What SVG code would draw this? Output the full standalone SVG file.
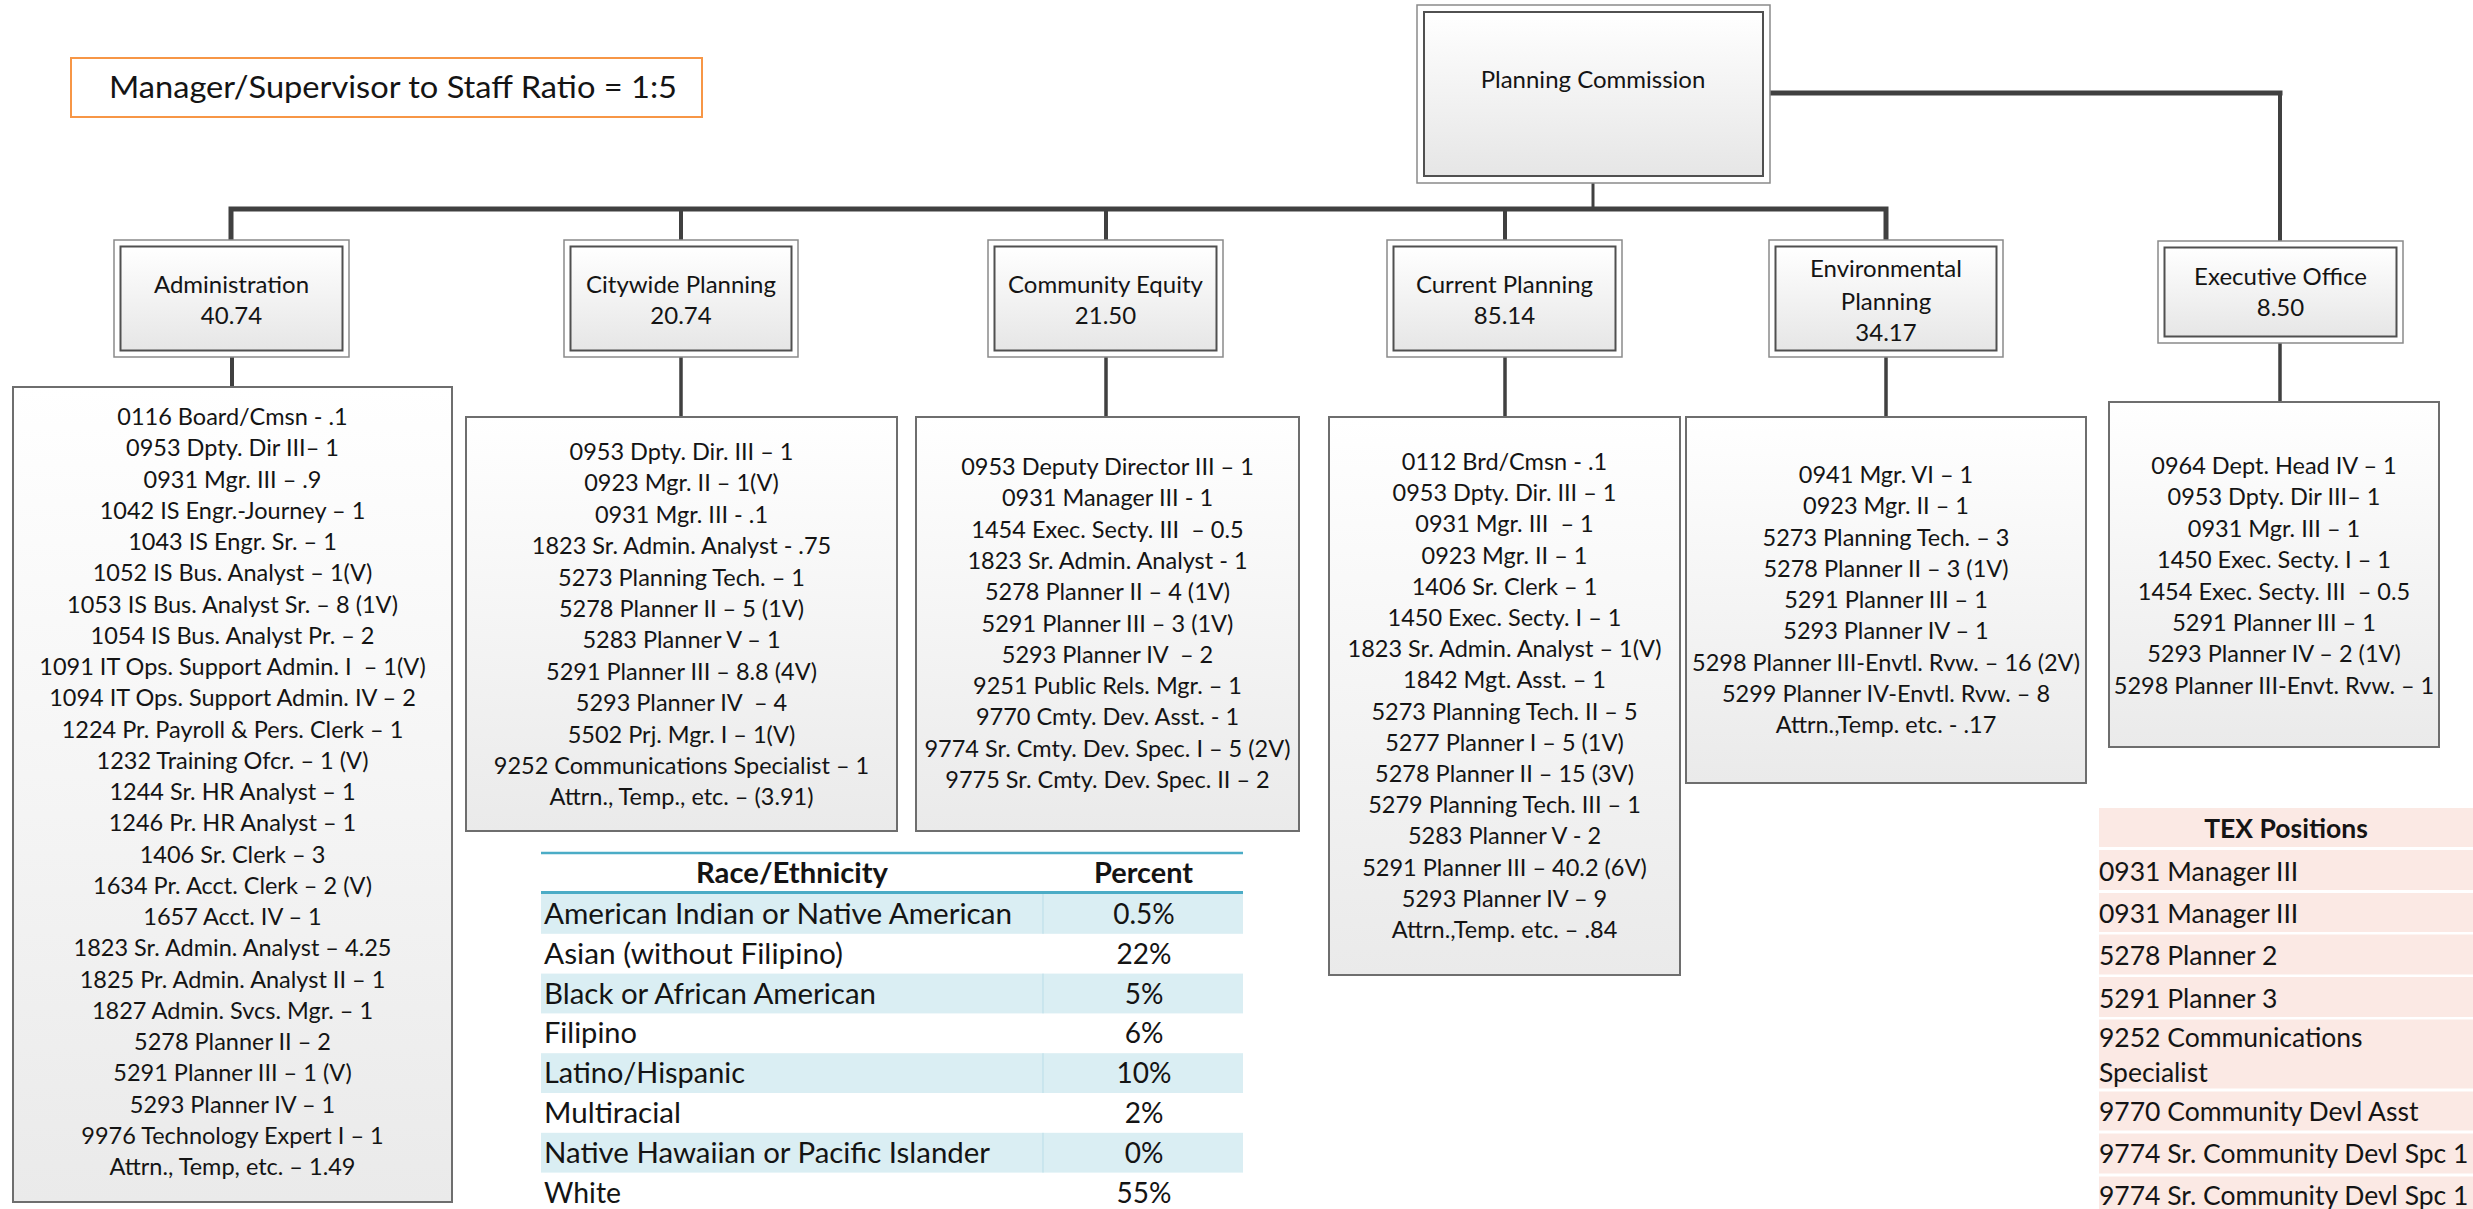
<svg xmlns="http://www.w3.org/2000/svg" width="2473" height="1209" viewBox="0 0 2473 1209">
<style>
.t{font-family:Lato,"Liberation Sans",sans-serif;fill:#141414}
.c{font-size:23.5px;text-anchor:middle}
.h{font-size:24px;text-anchor:middle}
.tb{font-size:28px}
.tx{font-size:26.5px}
.bold{font-weight:bold}
.box{fill:url(#g);stroke:#6E6E6E;stroke-width:2}
.outer{fill:#fff;stroke:#8A8A8A;stroke-width:1.5}
.inner{fill:url(#gh);stroke:#505050;stroke-width:2}
.conn{fill:none;stroke:#404040;stroke-linecap:square}
.shade{fill:#DAEEF3}
.tex{fill:#FBE9E4}
</style>
<defs>
<linearGradient id="g" x1="0" y1="0" x2="0" y2="1"><stop offset="0" stop-color="#FFFFFF"/><stop offset="1" stop-color="#EAEAEA"/></linearGradient>
<linearGradient id="gh" x1="0" y1="0" x2="0" y2="1"><stop offset="0" stop-color="#FFFFFF"/><stop offset="1" stop-color="#E6E6E6"/></linearGradient>
</defs>
<rect width="2473" height="1209" fill="#fff"/>

<g id="ratio">
<rect x="71" y="58" width="631" height="59" fill="#fff" stroke="#F79646" stroke-width="2"/>
<text class="t" x="109" y="98" font-size="31" textLength="568" lengthAdjust="spacingAndGlyphs">Manager/Supervisor to Staff Ratio = 1:5</text>
</g>

<g id="connectors">
<path class="conn" stroke-width="5" d="M231,240 V209 H1886 V240"/>
<path class="conn" stroke-width="4" d="M681,209 V240 M1106,209 V240 M1505,209 V240"/>
<path class="conn" stroke-width="3" d="M1593,183 V209"/>
<path class="conn" stroke-width="5" d="M1770,93 H2280"/>
<path class="conn" stroke-width="4" d="M2280,93 V241"/>
<path class="conn" stroke-width="4" d="M232,357 V387"/>
<path class="conn" stroke-width="3.5" d="M681,357 V417 M1106,357 V417 M1505,357 V417 M1886,357 V417 M2280,343 V402"/>
</g>

<g id="planning-commission">
<rect class="outer" x="1417" y="5" width="353" height="178"/>
<rect class="inner" x="1424" y="12" width="339" height="164"/>
<text class="t h" x="1593" y="88">Planning Commission</text>
</g>

<g id="administration">
<rect class="outer" x="114" y="240" width="235" height="117"/>
<rect class="inner" x="120.5" y="246.5" width="222" height="104"/>
<text class="t h" x="231.5" y="293">Administration</text>
<text class="t h" x="231.5" y="324">40.74</text>
</g>
<g id="citywide-planning">
<rect class="outer" x="564" y="240" width="234" height="117"/>
<rect class="inner" x="570.5" y="246.5" width="221" height="104"/>
<text class="t h" x="681" y="293">Citywide Planning</text>
<text class="t h" x="681" y="324">20.74</text>
</g>
<g id="community-equity">
<rect class="outer" x="988" y="240" width="235" height="117"/>
<rect class="inner" x="994.5" y="246.5" width="222" height="104"/>
<text class="t h" x="1105.5" y="293">Community Equity</text>
<text class="t h" x="1105.5" y="324">21.50</text>
</g>
<g id="current-planning">
<rect class="outer" x="1387" y="240" width="235" height="117"/>
<rect class="inner" x="1393.5" y="246.5" width="222" height="104"/>
<text class="t h" x="1504.5" y="293">Current Planning</text>
<text class="t h" x="1504.5" y="324">85.14</text>
</g>
<g id="environmental-planning">
<rect class="outer" x="1769" y="240" width="234" height="117"/>
<rect class="inner" x="1775.5" y="246.5" width="221" height="104"/>
<text class="t h" x="1886" y="277">Environmental</text>
<text class="t h" x="1886" y="310">Planning</text>
<text class="t h" x="1886" y="341">34.17</text>
</g>
<g id="executive-office">
<rect class="outer" x="2158" y="241" width="245" height="102"/>
<rect class="inner" x="2164.5" y="247.5" width="232" height="89"/>
<text class="t h" x="2280.5" y="285">Executive Office</text>
<text class="t h" x="2280.5" y="316">8.50</text>
</g>

<g id="administration-staff">
<rect class="box" x="13" y="387" width="439" height="815"/>
<text class="t c" x="232.5" y="425">0116 Board/Cmsn - .1</text>
<text class="t c" x="232.5" y="456.25">0953 Dpty. Dir III– 1</text>
<text class="t c" x="232.5" y="487.5">0931 Mgr. III – .9</text>
<text class="t c" x="232.5" y="518.75">1042 IS Engr.-Journey – 1</text>
<text class="t c" x="232.5" y="550">1043 IS Engr. Sr. – 1</text>
<text class="t c" x="232.5" y="581.25">1052 IS Bus. Analyst – 1(V)</text>
<text class="t c" x="232.5" y="612.5">1053 IS Bus. Analyst Sr. – 8 (1V)</text>
<text class="t c" x="232.5" y="643.75">1054 IS Bus. Analyst Pr. – 2</text>
<text class="t c" x="232.5" y="675" xml:space="preserve">1091 IT Ops. Support Admin. I  – 1(V)</text>
<text class="t c" x="232.5" y="706.25">1094 IT Ops. Support Admin. IV – 2</text>
<text class="t c" x="232.5" y="737.5">1224 Pr. Payroll &amp; Pers. Clerk – 1</text>
<text class="t c" x="232.5" y="768.75">1232 Training Ofcr. – 1 (V)</text>
<text class="t c" x="232.5" y="800">1244 Sr. HR Analyst – 1</text>
<text class="t c" x="232.5" y="831.25">1246 Pr. HR Analyst – 1</text>
<text class="t c" x="232.5" y="862.5">1406 Sr. Clerk – 3</text>
<text class="t c" x="232.5" y="893.75">1634 Pr. Acct. Clerk – 2 (V)</text>
<text class="t c" x="232.5" y="925">1657 Acct. IV – 1</text>
<text class="t c" x="232.5" y="956.25">1823 Sr. Admin. Analyst – 4.25</text>
<text class="t c" x="232.5" y="987.5">1825 Pr. Admin. Analyst II – 1</text>
<text class="t c" x="232.5" y="1018.75">1827 Admin. Svcs. Mgr. – 1</text>
<text class="t c" x="232.5" y="1050">5278 Planner II – 2</text>
<text class="t c" x="232.5" y="1081.25">5291 Planner III – 1 (V)</text>
<text class="t c" x="232.5" y="1112.5">5293 Planner IV – 1</text>
<text class="t c" x="232.5" y="1143.75">9976 Technology Expert I – 1</text>
<text class="t c" x="232.5" y="1175">Attrn., Temp, etc. – 1.49</text>
</g>

<g id="citywide-staff">
<rect class="box" x="466" y="417" width="431" height="414"/>
<text class="t c" x="681.5" y="460">0953 Dpty. Dir. III – 1</text>
<text class="t c" x="681.5" y="491.4">0923 Mgr. II – 1(V)</text>
<text class="t c" x="681.5" y="522.8">0931 Mgr. III - .1</text>
<text class="t c" x="681.5" y="554.2">1823 Sr. Admin. Analyst - .75</text>
<text class="t c" x="681.5" y="585.6">5273 Planning Tech. – 1</text>
<text class="t c" x="681.5" y="617">5278 Planner II – 5 (1V)</text>
<text class="t c" x="681.5" y="648.4">5283 Planner V – 1</text>
<text class="t c" x="681.5" y="679.8">5291 Planner III – 8.8 (4V)</text>
<text class="t c" x="681.5" y="711.2" xml:space="preserve">5293 Planner IV  – 4</text>
<text class="t c" x="681.5" y="742.6">5502 Prj. Mgr. I – 1(V)</text>
<text class="t c" x="681.5" y="774">9252 Communications Specialist – 1</text>
<text class="t c" x="681.5" y="805.4">Attrn., Temp., etc. – (3.91)</text>
</g>

<g id="community-equity-staff">
<rect class="box" x="916" y="417" width="383" height="414"/>
<text class="t c" x="1107.5" y="475">0953 Deputy Director III – 1</text>
<text class="t c" x="1107.5" y="506.3">0931 Manager III - 1</text>
<text class="t c" x="1107.5" y="537.6" xml:space="preserve">1454 Exec. Secty. III  – 0.5</text>
<text class="t c" x="1107.5" y="568.9">1823 Sr. Admin. Analyst - 1</text>
<text class="t c" x="1107.5" y="600.2">5278 Planner II – 4 (1V)</text>
<text class="t c" x="1107.5" y="631.5">5291 Planner III – 3 (1V)</text>
<text class="t c" x="1107.5" y="662.8" xml:space="preserve">5293 Planner IV  – 2</text>
<text class="t c" x="1107.5" y="694.1">9251 Public Rels. Mgr. – 1</text>
<text class="t c" x="1107.5" y="725.4">9770 Cmty. Dev. Asst. - 1</text>
<text class="t c" x="1107.5" y="756.7">9774 Sr. Cmty. Dev. Spec. I – 5 (2V)</text>
<text class="t c" x="1107.5" y="788">9775 Sr. Cmty. Dev. Spec. II – 2</text>
</g>

<g id="current-planning-staff">
<rect class="box" x="1329" y="417" width="351" height="558"/>
<text class="t c" x="1504.5" y="470">0112 Brd/Cmsn - .1</text>
<text class="t c" x="1504.5" y="501.2">0953 Dpty. Dir. III – 1</text>
<text class="t c" x="1504.5" y="532.4" xml:space="preserve">0931 Mgr. III  – 1</text>
<text class="t c" x="1504.5" y="563.6">0923 Mgr. II – 1</text>
<text class="t c" x="1504.5" y="594.8">1406 Sr. Clerk – 1</text>
<text class="t c" x="1504.5" y="626">1450 Exec. Secty. I – 1</text>
<text class="t c" x="1504.5" y="657.2">1823 Sr. Admin. Analyst – 1(V)</text>
<text class="t c" x="1504.5" y="688.4">1842 Mgt. Asst. – 1</text>
<text class="t c" x="1504.5" y="719.6">5273 Planning Tech. II – 5</text>
<text class="t c" x="1504.5" y="750.8">5277 Planner I – 5 (1V)</text>
<text class="t c" x="1504.5" y="782">5278 Planner II – 15 (3V)</text>
<text class="t c" x="1504.5" y="813.2">5279 Planning Tech. III – 1</text>
<text class="t c" x="1504.5" y="844.4">5283 Planner V - 2</text>
<text class="t c" x="1504.5" y="875.6">5291 Planner III – 40.2 (6V)</text>
<text class="t c" x="1504.5" y="906.8">5293 Planner IV – 9</text>
<text class="t c" x="1504.5" y="938">Attrn.,Temp. etc. – .84</text>
</g>

<g id="environmental-staff">
<rect class="box" x="1686" y="417" width="400" height="366"/>
<text class="t c" x="1886" y="483">0941 Mgr. VI – 1</text>
<text class="t c" x="1886" y="514.25">0923 Mgr. II – 1</text>
<text class="t c" x="1886" y="545.5">5273 Planning Tech. – 3</text>
<text class="t c" x="1886" y="576.75">5278 Planner II – 3 (1V)</text>
<text class="t c" x="1886" y="608">5291 Planner III – 1</text>
<text class="t c" x="1886" y="639.25">5293 Planner IV – 1</text>
<text class="t c" x="1886" y="670.5">5298 Planner III-Envtl. Rvw. – 16 (2V)</text>
<text class="t c" x="1886" y="701.75">5299 Planner IV-Envtl. Rvw. – 8</text>
<text class="t c" x="1886" y="733">Attrn.,Temp. etc. - .17</text>
</g>

<g id="executive-staff">
<rect class="box" x="2109" y="402" width="330" height="345"/>
<text class="t c" x="2274" y="474">0964 Dept. Head IV – 1</text>
<text class="t c" x="2274" y="505.4">0953 Dpty. Dir III– 1</text>
<text class="t c" x="2274" y="536.8">0931 Mgr. III – 1</text>
<text class="t c" x="2274" y="568.2">1450 Exec. Secty. I – 1</text>
<text class="t c" x="2274" y="599.6" xml:space="preserve">1454 Exec. Secty. III  – 0.5</text>
<text class="t c" x="2274" y="631">5291 Planner III – 1</text>
<text class="t c" x="2274" y="662.4">5293 Planner IV – 2 (1V)</text>
<text class="t c" x="2274" y="693.8">5298 Planner III-Envt. Rvw. – 1</text>
</g>

<g id="race-table">
<rect class="shade" x="541" y="894" width="702" height="39.8"/>
<rect class="shade" x="541" y="973.6" width="702" height="39.8"/>
<rect class="shade" x="541" y="1053.2" width="702" height="39.8"/>
<rect class="shade" x="541" y="1132.8" width="702" height="39.8"/>
<path d="M1043,894 V933.8 M1043,973.6 V1013.4 M1043,1053.2 V1093 M1043,1132.8 V1172.6" stroke="#B9DDE8" stroke-width="1"/>
<line x1="541" y1="853" x2="1243" y2="853" stroke="#4BACC6" stroke-width="2.5"/>
<line x1="541" y1="892.5" x2="1243" y2="892.5" stroke="#4BACC6" stroke-width="3"/>
<text class="t tb bold" x="696" y="883" textLength="192" lengthAdjust="spacingAndGlyphs">Race/Ethnicity</text>
<text class="t tb bold" x="1094" y="883" textLength="99" lengthAdjust="spacingAndGlyphs">Percent</text>
<text class="t tb" x="544" y="924" textLength="468" lengthAdjust="spacingAndGlyphs">American Indian or Native American</text>
<text class="t tb" x="1144" y="924" text-anchor="middle">0.5%</text>
<text class="t tb" x="544" y="963.8" textLength="299" lengthAdjust="spacingAndGlyphs">Asian (without Filipino)</text>
<text class="t tb" x="1144" y="963.8" text-anchor="middle">22%</text>
<text class="t tb" x="544" y="1003.6" textLength="332" lengthAdjust="spacingAndGlyphs">Black or African American</text>
<text class="t tb" x="1144" y="1003.6" text-anchor="middle">5%</text>
<text class="t tb" x="544" y="1043.4" textLength="93" lengthAdjust="spacingAndGlyphs">Filipino</text>
<text class="t tb" x="1144" y="1043.4" text-anchor="middle">6%</text>
<text class="t tb" x="544" y="1083.2" textLength="201" lengthAdjust="spacingAndGlyphs">Latino/Hispanic</text>
<text class="t tb" x="1144" y="1083.2" text-anchor="middle">10%</text>
<text class="t tb" x="544" y="1123" textLength="137" lengthAdjust="spacingAndGlyphs">Multiracial</text>
<text class="t tb" x="1144" y="1123" text-anchor="middle">2%</text>
<text class="t tb" x="544" y="1162.8" textLength="446" lengthAdjust="spacingAndGlyphs">Native Hawaiian or Pacific Islander</text>
<text class="t tb" x="1144" y="1162.8" text-anchor="middle">0%</text>
<text class="t tb" x="544" y="1202.6" textLength="77" lengthAdjust="spacingAndGlyphs">White</text>
<text class="t tb" x="1144" y="1202.6" text-anchor="middle">55%</text>
</g>

<g id="tex-table">
<rect class="tex" x="2099" y="808" width="374" height="39"/>
<rect class="tex" x="2099" y="850" width="374" height="40"/>
<rect class="tex" x="2099" y="893" width="374" height="39"/>
<rect class="tex" x="2099" y="934.5" width="374" height="40"/>
<rect class="tex" x="2099" y="977" width="374" height="40"/>
<rect class="tex" x="2099" y="1019.5" width="374" height="69"/>
<rect class="tex" x="2099" y="1091.5" width="374" height="39"/>
<rect class="tex" x="2099" y="1133.5" width="374" height="40"/>
<rect class="tex" x="2099" y="1176.5" width="374" height="40"/>
<text class="t tx bold" x="2286" y="838" text-anchor="middle">TEX Positions</text>
<text class="t tx" x="2099" y="881">0931 Manager III</text>
<text class="t tx" x="2099" y="923">0931 Manager III</text>
<text class="t tx" x="2099" y="965">5278 Planner 2</text>
<text class="t tx" x="2099" y="1008">5291 Planner 3</text>
<text class="t tx" x="2099" y="1047">9252 Communications</text>
<text class="t tx" x="2099" y="1082">Specialist</text>
<text class="t tx" x="2099" y="1121">9770 Community Devl Asst</text>
<text class="t tx" x="2099" y="1163">9774 Sr. Community Devl Spc 1</text>
<text class="t tx" x="2099" y="1205">9774 Sr. Community Devl Spc 1</text>
</g>
</svg>
